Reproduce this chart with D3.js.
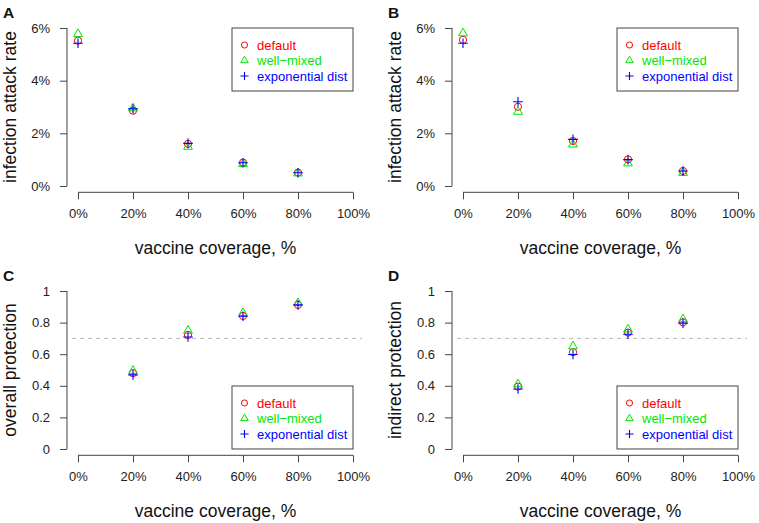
<!DOCTYPE html>
<html>
<head>
<meta charset="utf-8">
<script src="https://cdn.jsdelivr.net/npm/d3@7"></script>
<style>
    body { margin: 0; background: #fff; }
    svg { display: block; font-family: "Liberation Sans", Arial, sans-serif; }
</style>
</head>
<body>
<div id="chart"></div>
<script>
// Shared x values and ticks
const coverage = [0, 0.2, 0.4, 0.6, 0.8];
const coverageProt = [0.2, 0.4, 0.6, 0.8];
const xTicks = [0, 0.2, 0.4, 0.6, 0.8, 1];
const xTickLabels = ["0%", "20%", "40%", "60%", "80%", "100%"];

const attackTicks = [0, 0.02, 0.04, 0.06];
const attackTickLabels = ["0%", "2%", "4%", "6%"];
const protTicks = [0, 0.2, 0.4, 0.6, 0.8, 1];
const protTickLabels = ["0", "0.2", "0.4", "0.6", "0.8", "1"];

// Panel A - infection attack rate
const attackA_default = [0.0552, 0.0286, 0.0160, 0.0089, 0.0051];
const attackA_wellMixed = [0.0577, 0.0295, 0.0149, 0.0084, 0.0048];
const attackA_expDist = [0.0542, 0.0293, 0.0162, 0.0088, 0.0050];

// Panel B - infection attack rate
const attackB_default = [0.0555, 0.0301, 0.0171, 0.0101, 0.0057];
const attackB_wellMixed = [0.0580, 0.0282, 0.0158, 0.0086, 0.0050];
const attackB_expDist = [0.0542, 0.0320, 0.0177, 0.0100, 0.0057];

// Panel C - overall protection
const protC_default = [0.480, 0.722, 0.842, 0.912];
const protC_wellMixed = [0.495, 0.749, 0.861, 0.924];
const protC_expDist = [0.469, 0.709, 0.840, 0.912];

// Panel D - indirect protection
const protD_default = [0.395, 0.613, 0.737, 0.802];
const protD_wellMixed = [0.410, 0.650, 0.757, 0.821];
const protD_expDist = [0.380, 0.598, 0.726, 0.797];

const seriesNames = ["default", "well\u2212mixed", "exponential dist"];
const seriesColors = ["#ff0000", "#00e600", "#0000ff"];
const threshold = 0.7;

const panels = [
    { letter: "A", ox: 0, oy: 0, ylab: "infection attack rate", x: coverage,
      series: [attackA_default, attackA_wellMixed, attackA_expDist],
      yMax: 0.06, ticks: attackTicks, tickLabels: attackTickLabels, legend: "top", dashed: false },
    { letter: "B", ox: 385, oy: 0, ylab: "infection attack rate", x: coverage,
      series: [attackB_default, attackB_wellMixed, attackB_expDist],
      yMax: 0.06, ticks: attackTicks, tickLabels: attackTickLabels, legend: "top", dashed: false },
    { letter: "C", ox: 0, oy: 263, ylab: "overall protection", x: coverageProt,
      series: [protC_default, protC_wellMixed, protC_expDist],
      yMax: 1, ticks: protTicks, tickLabels: protTickLabels, legend: "bottom", dashed: true },
    { letter: "D", ox: 385, oy: 263, ylab: "indirect protection", x: coverageProt,
      series: [protD_default, protD_wellMixed, protD_expDist],
      yMax: 1, ticks: protTicks, tickLabels: protTickLabels, legend: "bottom", dashed: true }
];

const axisColor = "#444";
const region = { left: 67, right: 364, top: 21.7, bottom: 192.3 };

const svg = d3.select("#chart").append("svg")
    .attr("width", 759)
    .attr("height", 523);

// Draw a marker for series i (s = size factor)
function drawMarker(g, i, cx, cy, s = 1) {
    const color = seriesColors[i];
    if (i === 0) {
        g.append("circle").attr("cx", cx).attr("cy", cy).attr("r", 3.6 * s)
            .attr("fill", "none").attr("stroke", color).attr("stroke-width", 1);
    } else if (i === 1) {
        g.append("path")
            .attr("d", d3.symbol(d3.symbolTriangle, 34 * s * s)())
            .attr("transform", `translate(${cx},${cy})`)
            .attr("fill", "none").attr("stroke", color).attr("stroke-width", 1);
    } else {
        const h = 4.8 * s;
        g.append("path")
            .attr("d", `M${cx - h},${cy}H${cx + h}M${cx},${cy - h}V${cy + h}`)
            .attr("fill", "none").attr("stroke", color).attr("stroke-width", 1.1);
    }
}

function drawPanel(p) {
    const g = svg.append("g").attr("transform", `translate(${p.ox},${p.oy})`);

    // R-style scales with 4% padding
    const x = d3.scaleLinear().domain([-0.04, 1.04]).range([region.left, region.right]);
    const pad = p.yMax * 0.04;
    const y = d3.scaleLinear().domain([-pad, p.yMax + pad]).range([region.bottom, region.top]);

    // X axis
    const xAxis = g.append("g")
        .attr("transform", `translate(0,${region.bottom})`)
        .call(d3.axisBottom(x).tickValues(xTicks).tickFormat((d, i) => xTickLabels[i])
            .tickSizeOuter(0).tickSizeInner(7).tickPadding(9));
    xAxis.select(".domain").attr("d", `M${x(0)},0H${x(1)}`);

    // Y axis
    const yAxis = g.append("g")
        .attr("transform", `translate(${region.left},0)`)
        .call(d3.axisLeft(y).tickValues(p.ticks).tickFormat((d, i) => p.tickLabels[i])
            .tickSizeOuter(0).tickSizeInner(7).tickPadding(10));
    yAxis.select(".domain").attr("d", `M0,${y(0)}V${y(p.yMax)}`);

    g.selectAll(".tick line, .domain").attr("stroke", axisColor).attr("stroke-width", 1);
    g.selectAll(".tick text").attr("font-size", 13).attr("fill", "#222")
        .attr("font-family", "'Liberation Sans', Arial, sans-serif");

    // Dashed reference line
    if (p.dashed) {
        g.append("line")
            .attr("x1", region.left + 5).attr("x2", region.right - 2)
            .attr("y1", y(threshold)).attr("y2", y(threshold))
            .attr("stroke", "#bbb").attr("stroke-width", 1).attr("stroke-dasharray", "4,4");
    }

    // Points
    p.series.forEach((vals, i) => {
        vals.forEach((v, j) => drawMarker(g, i, x(p.x[j]), y(v)));
    });

    // Legend
    const lw = 121, lh = 63;
    const lx = x(1) - lw;
    const ly = p.legend === "top" ? y(p.yMax) : y(0) - lh;
    g.append("rect").attr("x", lx).attr("y", ly).attr("width", lw).attr("height", lh)
        .attr("fill", "#fff").attr("stroke", axisColor).attr("stroke-width", 1);
    seriesNames.forEach((name, i) => {
        const ry = ly + 17 + i * 15.5;
        drawMarker(g, i, lx + 12.5, ry, 0.85);
        g.append("text").attr("x", lx + 25).attr("y", ry + 4.6)
            .attr("font-size", 13).attr("fill", seriesColors[i]).text(name);
    });

    // Axis titles
    g.append("text")
        .attr("transform", `translate(15.5,${(region.top + region.bottom) / 2}) rotate(-90)`)
        .attr("text-anchor", "middle").attr("font-size", 17.5).attr("fill", "#111")
        .text(p.ylab);
    g.append("text")
        .attr("x", (region.left + region.right) / 2).attr("y", 254)
        .attr("text-anchor", "middle").attr("font-size", 17.5).attr("fill", "#111")
        .text("vaccine coverage, %");

    // Panel letter
    g.append("text").attr("x", 3).attr("y", 17.5)
        .attr("font-size", 15.5).attr("font-weight", "bold").attr("fill", "#111")
        .text(p.letter);
}

panels.forEach(drawPanel);
</script>
</body>
</html>
